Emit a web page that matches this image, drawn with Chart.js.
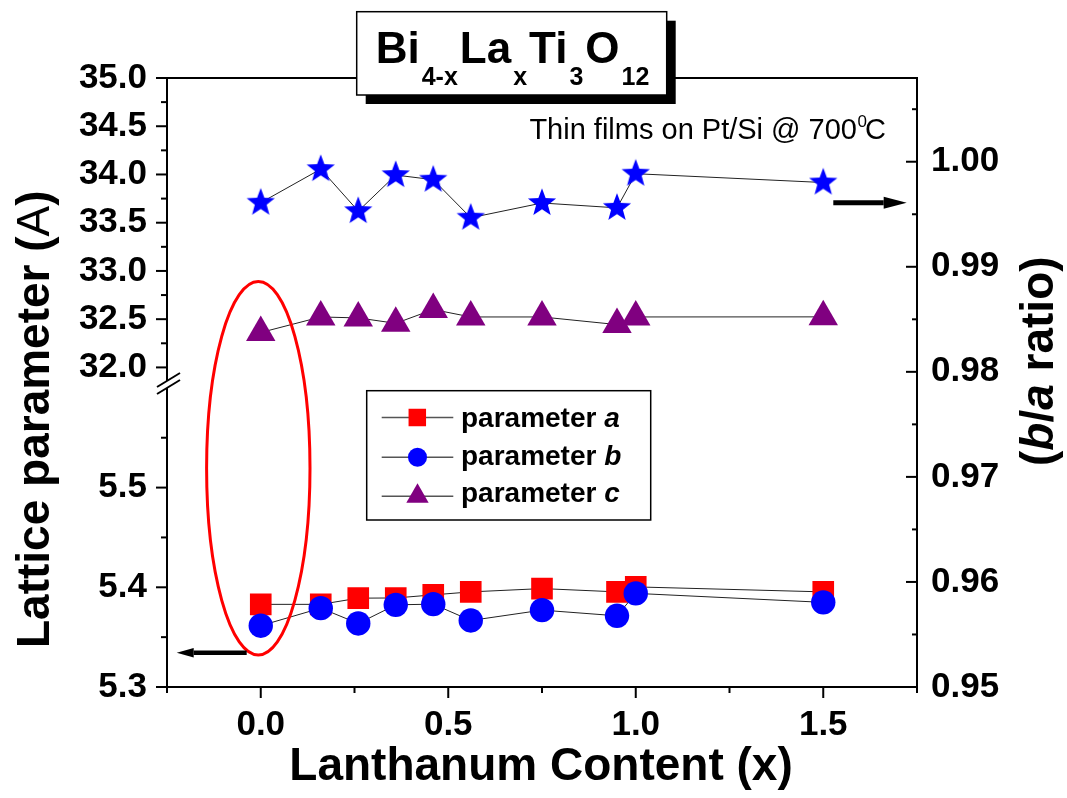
<!DOCTYPE html>
<html><head><meta charset="utf-8">
<script src="https://cdn.jsdelivr.net/npm/chart.js@4"></script>
<style>html,body{margin:0;padding:0;background:#fff}#wrap{width:1067px;height:798px;position:relative}</style>
</head><body><div id="wrap"><canvas id="c" width="1067" height="798"></canvas></div>
<script>
// ---- data ----
const lanthanum = [0, 0.16, 0.26, 0.36, 0.46, 0.56, 0.75, 0.95, 1.0, 1.5];
const paramA = [5.3829, 5.3829, 5.3891, 5.3893, 5.3924, 5.3954, 5.3987, 5.3954, 5.4004, 5.3954];
const paramB = [5.3615, 5.3791, 5.3637, 5.3824, 5.3831, 5.3667, 5.3771, 5.3714, 5.3939, 5.3849];
const paramC = [32.362, 32.523, 32.513, 32.457, 32.600, 32.523, 32.523, 32.444, 32.523, 32.524];
const ratioBA = [0.9961, 0.9993, 0.9953, 0.99873, 0.99829, 0.99467, 0.99607, 0.99561, 0.99886, 0.99802];
const seriesNames = ['parameter ', 'parameter ', 'parameter '];
const seriesLetters = ['a', 'b', 'c'];
// ---- tick labels ----
const upperTicks = [32.0, 32.5, 33.0, 33.5, 34.0, 34.5, 35.0];
const upperMinor = [32.25, 32.75, 33.25, 33.75, 34.25, 34.75];
const lowerTicks = [5.3, 5.4, 5.5];
const lowerMinor = [5.35, 5.45, 5.55];
const ratioTicks = [0.95, 0.96, 0.97, 0.98, 0.99, 1.00];
const ratioMinor = [0.955, 0.965, 0.975, 0.985, 0.995, 1.005];
const xTicks = [0.0, 0.5, 1.0, 1.5];
const xMinor = [-0.25, 0.25, 0.75, 1.25, 1.75];

const FF = '"Liberation Sans", Arial, Helvetica, sans-serif';
const RED = '#ff0000', BLUE = '#0000ff', PURPLE = '#800080';

function makeStar(R, color) {
  const c = document.createElement('canvas');
  const s = Math.ceil(2 * R + 2);
  c.width = s; c.height = s;
  const g = c.getContext('2d');
  const cx = s / 2, cy = s / 2, r = R * 0.42;
  g.beginPath();
  for (let i = 0; i < 10; i++) {
    const ang = -Math.PI / 2 + i * Math.PI / 5;
    const rr = i % 2 ? r : R;
    g.lineTo(cx + rr * Math.cos(ang), cy + rr * Math.sin(ang));
  }
  g.closePath(); g.fillStyle = color; g.fill();
  return c;
}
const starImg = makeStar(14.8, BLUE);

function ds(label, ys, axis, color, style, radius, order) {
  return {
    label, data: lanthanum.map((x, i) => ({x, y: ys[i]})), yAxisID: axis,
    borderColor: '#222', borderWidth: 1, backgroundColor: color,
    pointBackgroundColor: color, pointBorderColor: color, pointBorderWidth: 0,
    pointStyle: style, pointRadius: radius, pointHoverRadius: radius, tension: 0, order
  };
}

const tickFont = {family: FF, size: 35, weight: 'bold'};
const fixTicks = arr => (s => { s.ticks = arr.map(v => ({value: v})); });

const decor = {
  id: 'decor',
  afterDatasetsDraw(chart) {
    const ctx = chart.ctx;
    ctx.save();
    ctx.strokeStyle = RED; ctx.lineWidth = 3;
    ctx.beginPath();
    ctx.ellipse(258.3, 468.3, 51.7, 186.7, 0, 0, Math.PI * 2);
    ctx.stroke();
    ctx.restore();
  },
  afterDraw(chart) {
    const ctx = chart.ctx;
    const {left, right, top, bottom} = chart.chartArea;
    const xs = chart.scales.x, yt = chart.scales.yTop, yb = chart.scales.yBot, yr = chart.scales.yR;
    ctx.save();
    ctx.strokeStyle = '#000'; ctx.fillStyle = '#000'; ctx.lineWidth = 2;
    const seg = (x1, y1, x2, y2) => { ctx.beginPath(); ctx.moveTo(x1, y1); ctx.lineTo(x2, y2); ctx.stroke(); };
    seg(left - 1, top, right + 1, top);
    upperTicks.forEach(v => { const p = yt.getPixelForValue(v); seg(left - 11, p, left, p); });
    upperMinor.forEach(v => { const p = yt.getPixelForValue(v); seg(left - 6, p, left, p); });
    lowerTicks.forEach(v => { const p = yb.getPixelForValue(v); seg(left - 11, p, left, p); });
    lowerMinor.forEach(v => { const p = yb.getPixelForValue(v); seg(left - 6, p, left, p); });
    ratioTicks.forEach(v => { const p = yr.getPixelForValue(v); seg(right - 11, p, right, p); });
    ratioMinor.forEach(v => { const p = yr.getPixelForValue(v); seg(right - 5, p, right, p); });
    xTicks.forEach(v => { const p = xs.getPixelForValue(v); seg(p, bottom, p, bottom + 11); });
    xMinor.forEach(v => { const p = xs.getPixelForValue(v); seg(p, bottom, p, bottom + 6); });
    // axis break
    ctx.fillStyle = '#fff';
    ctx.beginPath();
    ctx.moveTo(157, 387); ctx.lineTo(180, 373); ctx.lineTo(180, 380); ctx.lineTo(157, 394); ctx.closePath();
    ctx.fill();
    ctx.fillStyle = '#000';
    seg(157, 387, 180, 373);
    seg(157, 394, 180, 380);
    // arrows
    const arrow = (x1, x2, y, w, hl, hw) => {
      const dir = Math.sign(x2 - x1);
      ctx.lineWidth = w;
      seg(x1, y, x2 - dir * hl, y);
      ctx.beginPath(); ctx.moveTo(x2, y); ctx.lineTo(x2 - dir * hl, y - hw); ctx.lineTo(x2 - dir * hl, y + hw); ctx.closePath(); ctx.fill();
    };
    arrow(246.7, 176.7, 652.7, 4.5, 17, 4.8);
    arrow(833.3, 906.7, 202.7, 5, 23, 6);
    ctx.lineWidth = 2;

    // title box
    ctx.fillStyle = '#000';
    ctx.fillRect(365.7, 20.7, 310, 83.3);
    ctx.fillStyle = '#fff';
    ctx.fillRect(356.7, 11.7, 310, 83.3);
    ctx.lineWidth = 1.5; ctx.strokeStyle = '#000';
    ctx.strokeRect(356.7, 11.7, 310, 83.3);
    ctx.fillStyle = '#000';
    ctx.textBaseline = 'alphabetic'; ctx.textAlign = 'left';
    const big = 'bold 44px ' + FF, small = 'bold 25px ' + FF;
    const parts = [['Bi', 0], ['4-x', 1], ['La', 0], ['x', 1], ['Ti', 0], ['3', 1], ['O', 0], ['12', 1]];
    const gap = 2;
    let tot = 0;
    parts.forEach(([t, s]) => { ctx.font = s ? small : big; tot += ctx.measureText(t).width + gap; });
    tot -= gap;
    let px = 512.5 - tot / 2;
    parts.forEach(([t, s]) => { ctx.font = s ? small : big; ctx.fillText(t, px, s ? 85 : 63.3); px += ctx.measureText(t).width + gap; });

    // annotation
    ctx.font = '29px ' + FF; ctx.textAlign = 'right';
    ctx.fillText('Thin films on Pt/Si @ 700', 857, 139);
    ctx.textAlign = 'left';
    ctx.font = '17px ' + FF; ctx.fillText('0', 857.5, 127);
    ctx.font = '29px ' + FF; ctx.fillText('C', 865, 139);

    // legend
    ctx.lineWidth = 1.5; ctx.strokeStyle = '#000';
    ctx.strokeRect(366.7, 390.7, 284, 129.3);
    const rows = [
      {y: 417.5, base: 426.7, color: RED, shape: 'sq'},
      {y: 457.3, base: 464.7, color: BLUE, shape: 'ci'},
      {y: 496.2, base: 502, color: PURPLE, shape: 'tr'}
    ];
    rows.forEach((r, i) => {
      ctx.strokeStyle = '#555'; ctx.lineWidth = 1.5;
      seg(381.7, r.y, 453.3, r.y);
      ctx.fillStyle = r.color;
      ctx.beginPath();
      if (r.shape === 'sq') ctx.rect(417.3 - 8.75, r.y - 8.75, 17.5, 17.5);
      else if (r.shape === 'ci') ctx.arc(417.5, r.y, 9.5, 0, Math.PI * 2);
      else { const R = 12.9; ctx.moveTo(417.5, r.y - R); ctx.lineTo(417.5 + 0.866 * R, r.y + 0.5 * R); ctx.lineTo(417.5 - 0.866 * R, r.y + 0.5 * R); ctx.closePath(); }
      ctx.fill();
      ctx.fillStyle = '#000';
      ctx.font = 'bold 28px ' + FF;
      ctx.fillText(seriesNames[i], 461, r.base);
      const w = ctx.measureText(seriesNames[i]).width;
      ctx.font = 'italic bold 28px ' + FF;
      ctx.fillText(seriesLetters[i], 461 + w, r.base);
    });

    // axis titles
    ctx.fillStyle = '#000';
    ctx.save();
    ctx.translate(49, 648); ctx.rotate(-Math.PI / 2);
    ctx.font = 'bold 46px ' + FF; ctx.fillText('Lattice parameter (', 0, 0);
    let w1 = ctx.measureText('Lattice parameter (').width;
    ctx.font = '46px ' + FF; ctx.fillText('A', w1, 0);
    w1 += ctx.measureText('A').width;
    ctx.font = 'bold 46px ' + FF; ctx.fillText(')', w1, 0);
    ctx.restore();
    ctx.save();
    ctx.translate(1053, 466); ctx.rotate(-Math.PI / 2);
    const rparts = [['(', 'bold'], ['b', 'italic bold'], ['/', 'bold'], ['a', 'italic bold'], [' ratio)', 'bold']];
    let xx = 0;
    rparts.forEach(([t, st]) => { ctx.font = st + ' 46px ' + FF; ctx.fillText(t, xx, 0); xx += ctx.measureText(t).width; });
    ctx.restore();
    ctx.font = 'bold 46px ' + FF; ctx.textAlign = 'center';
    ctx.fillText('Lanthanum Content (x)', 541, 780);
    ctx.restore();
  }
};

new Chart(document.getElementById('c'), {
  type: 'line',
  data: {
    datasets: [
      ds('parameter a', paramA, 'yBot', RED, 'rect', 15.3, 2),
      ds('parameter b', paramB, 'yBot', BLUE, 'circle', 12.2, 1),
      ds('parameter c', paramC, 'yTop', PURPLE, 'triangle', 17, 3),
      ds('b/a ratio', ratioBA, 'yR', BLUE, starImg, 14.8, 4)
    ]
  },
  options: {
    responsive: false, animation: false, devicePixelRatio: 1,
    layout: {padding: {top: 78, left: 0, right: 0, bottom: 0}},
    plugins: {legend: {display: false}, tooltip: {enabled: false}, title: {display: false}},
    scales: {
      x: {
        type: 'linear', position: 'bottom', min: -0.25, max: 1.75,
        grid: {display: false, drawTicks: false}, border: {display: true, color: '#000', width: 2},
        ticks: {font: tickFont, color: '#000', padding: 17, maxRotation: 0, autoSkip: false, callback: v => Number(v).toFixed(1)},
        afterBuildTicks: fixTicks(xTicks),
        afterFit: s => { s.height = 111; }
      },
      yBot: {
        type: 'linear', position: 'left', stack: 'left', stackWeight: 1, min: 5.3, max: 5.6054,
        grid: {display: false, drawTicks: false}, border: {display: true, color: '#000', width: 2},
        ticks: {font: tickFont, color: '#000', padding: 20, autoSkip: false, callback: v => Number(v).toFixed(1)},
        afterBuildTicks: fixTicks(lowerTicks),
        afterFit: s => { s.width = 167; }
      },
      yTop: {
        type: 'linear', position: 'left', stack: 'left', stackWeight: 1, min: 31.8436, max: 35.0,
        grid: {display: false, drawTicks: false}, border: {display: true, color: '#000', width: 2},
        ticks: {font: tickFont, color: '#000', padding: 20, autoSkip: false, callback: v => Number(v).toFixed(1)},
        afterBuildTicks: fixTicks(upperTicks),
        afterFit: s => { s.width = 167; }
      },
      yR: {
        type: 'linear', position: 'right', min: 0.95, max: 1.00797,
        grid: {display: false, drawTicks: false}, border: {display: true, color: '#000', width: 2},
        ticks: {font: tickFont, color: '#000', padding: 14, autoSkip: false, callback: v => Number(v).toFixed(2)},
        afterBuildTicks: fixTicks(ratioTicks),
        afterFit: s => { s.width = 150; }
      }
    }
  },
  plugins: [decor]
});
</script>
</body></html>
